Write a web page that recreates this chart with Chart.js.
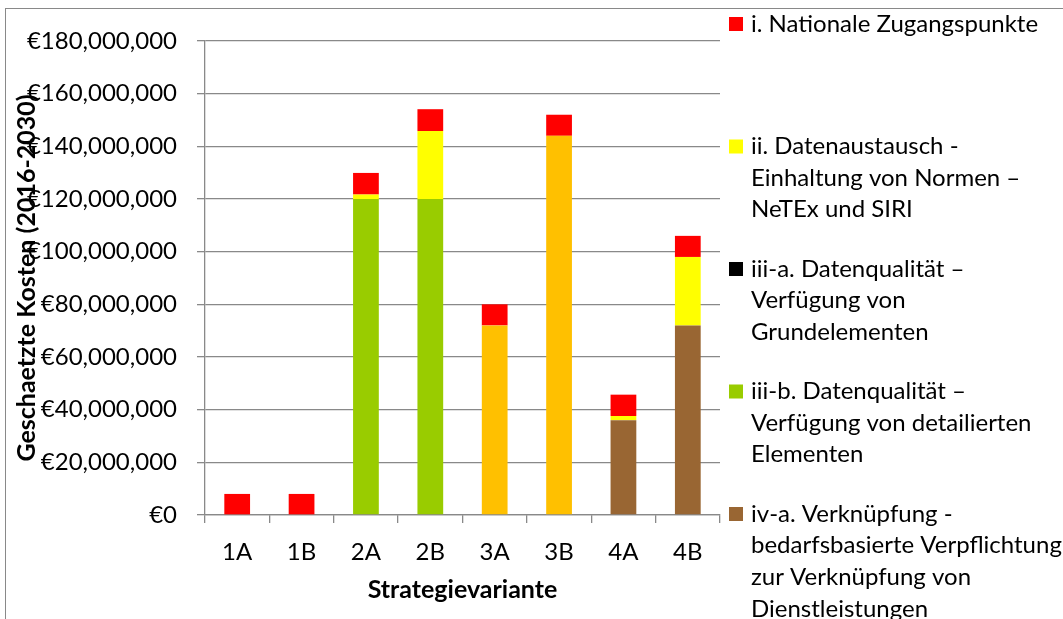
<!DOCTYPE html>
<html>
<head>
<meta charset="utf-8">
<script src="https://cdn.jsdelivr.net/npm/chart.js@4.4.1/dist/chart.umd.min.js"></script>
<style>
  html, body { margin: 0; padding: 0; background: #ffffff; overflow: hidden; }
  #wrap { width: 1063px; height: 619px; position: relative; }
</style>
</head>
<body>
<div id="wrap"><canvas id="c" width="1063" height="619"></canvas></div>
<script>
// ---- data ----
const categories = ["1A", "1B", "2A", "2B", "3A", "3B", "4A", "4B"];
// values in EUR millions
const s_i    = [8, 8, 8.2, 8.3, 8, 8, 8.1, 8];          // i. Nationale Zugangspunkte
const s_ii   = [0, 0, 1.7, 25.8, 0, 0, 1.6, 26];        // ii. Datenaustausch
const s_iiia = [0, 0, 0, 0, 0, 0, 0, 0];                // iii-a. Datenqualität (Grundelemente)
const s_iiib = [0, 0, 120, 120, 0, 0, 0, 0];            // iii-b. Datenqualität (detailiert)
const s_iva  = [0, 0, 0, 0, 0, 0, 36, 72];              // iv-a. Verknüpfung
const s_ivb  = [0, 0, 0, 0, 72, 144, 0, 0];             // iv-b (legend entry cut off)
const yTicks = [0, 20, 40, 60, 80, 100, 120, 140, 160, 180];

const labels_i    = ["i. Nationale Zugangspunkte"];
const labels_ii   = ["ii. Datenaustausch -", "Einhaltung von Normen \u2013", "NeTEx und SIRI"];
const labels_iiia = ["iii-a. Datenqualität \u2013", "Verfügung von", "Grundelementen"];
const labels_iiib = ["iii-b. Datenqualität \u2013", "Verfügung von detailierten", "Elementen"];
const labels_iva  = ["iv-a. Verknüpfung -", "bedarfsbasierte Verpflichtung", "zur Verknüpfung von", "Dienstleistungen"];

const M = 1000000;
const toEur = arr => arr.map(v => v * M);

const COL = { i: "#FF0000", ii: "#FFFF00", iiia: "#000000", iiib: "#99CC00", iva: "#996633", ivb: "#FFC000" };
const GRID = "#898989";
const FONT = "Lato";

const legendEntries = [
  { lines: labels_i, color: COL.i },
  { lines: labels_ii, color: COL.ii },
  { lines: labels_iiia, color: COL.iiia },
  { lines: labels_iiib, color: COL.iiib },
  { lines: labels_iva, color: COL.iva }
];

const decor = {
  id: "decor",
  beforeDraw(chart) {
    const ctx = chart.ctx;
    ctx.save();
    ctx.fillStyle = "#ffffff";
    ctx.fillRect(0, 0, chart.width, chart.height);
    ctx.strokeStyle = GRID;
    ctx.lineWidth = 1;
    ctx.strokeRect(5.5, 8.5, 3000, 3000);
    ctx.restore();
  },
  afterDraw(chart) {
    const ctx = chart.ctx;
    ctx.save();
    ctx.font = "24px " + FONT;
    ctx.textBaseline = "middle";
    ctx.textAlign = "left";
    const firstY = 24, entryStep = 122.5, lineH = 31.6;
    legendEntries.forEach((e, k) => {
      const y0 = firstY + k * entryStep;
      ctx.fillStyle = e.color;
      ctx.fillRect(729, y0 - 7, 14, 14);
      ctx.fillStyle = "#000000";
      e.lines.forEach((t, j) => ctx.fillText(t, 751, y0 + j * lineH));
    });
    ctx.restore();
  }
};

new Chart(document.getElementById("c"), {
  type: "bar",
  data: {
    labels: categories,
    datasets: [
      { label: labels_iiib.join(" "), data: toEur(s_iiib), backgroundColor: COL.iiib },
      { label: labels_iva.join(" "), data: toEur(s_iva), backgroundColor: COL.iva },
      { label: "iv-b", data: toEur(s_ivb), backgroundColor: COL.ivb },
      { label: labels_iiia.join(" "), data: toEur(s_iiia), backgroundColor: COL.iiia },
      { label: labels_ii.join(" "), data: toEur(s_ii), backgroundColor: COL.ii },
      { label: labels_i.join(" "), data: toEur(s_i), backgroundColor: COL.i }
    ]
  },
  options: {
    responsive: false,
    animation: false,
    devicePixelRatio: 1,
    datasets: { bar: { barPercentage: 0.4, categoryPercentage: 1.0, borderWidth: 0 } },
    layout: { padding: { left: 0, top: 41, right: 343, bottom: 0 } },
    plugins: {
      legend: { display: false },
      tooltip: { enabled: false },
      title: { display: false }
    },
    scales: {
      x: {
        stacked: true,
        grid: { offset: true, drawOnChartArea: false, drawTicks: true, tickLength: 8, color: GRID, lineWidth: 1.3 },
        border: { display: true, color: GRID, width: 1.3 },
        ticks: { color: "#000000", font: { family: FONT, size: 24 }, padding: 15 },
        title: { display: true, text: "Strategievariante", color: "#000000",
                 font: { family: FONT, size: 25, weight: "bold" }, padding: { top: 0, bottom: 14 } },
        afterFit(scale) { scale.height = 104; }
      },
      y: {
        stacked: true,
        min: 0,
        max: 180 * M,
        afterBuildTicks(scale) { scale.ticks = yTicks.map(v => ({ value: v * M })); },
        grid: { color: GRID, lineWidth: 1.3, tickLength: 8 },
        border: { display: true, color: GRID, width: 1.3 },
        ticks: {
          color: "#000000",
          font: { family: FONT, size: 24 },
          padding: 20,
          callback: v => "\u20AC" + Number(v).toLocaleString("en-US")
        },
        title: { display: true, text: "Geschaetzte Kosten (2016-2030)", color: "#000000",
                 font: { family: FONT, size: 25, weight: "bold" }, padding: { top: 12, bottom: 0 } },
        afterFit(scale) { scale.width = 205; }
      }
    }
  },
  plugins: [decor]
});
</script>
</body>
</html>
